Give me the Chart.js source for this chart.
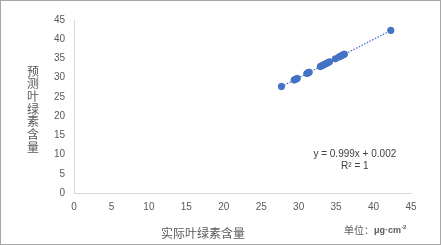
<!DOCTYPE html>
<html>
<head>
<meta charset="utf-8">
<script src="https://cdn.jsdelivr.net/npm/chart.js@4/dist/chart.umd.min.js"></script>
<style>
  html, body { margin: 0; padding: 0; background: #fff; }
  #wrap { width: 441px; height: 245px; position: relative; }
</style>
</head>
<body>
<div id="wrap"><canvas id="c" width="441" height="245"></canvas></div>
<script>
/* measured vs predicted chlorophyll content */
const actualVals    = [27.7, 29.4, 29.6, 29.8, 31.1, 31.3, 31.4, 32.9, 33.1, 33.3, 33.5, 33.7, 33.9, 34.1, 34.9, 35.4, 35.6, 35.8, 36.0, 36.1, 42.3];
const predictedVals = [27.7, 29.4, 29.6, 29.8, 31.1, 31.3, 31.4, 32.9, 33.1, 33.3, 33.5, 33.7, 33.9, 34.1, 34.9, 35.4, 35.6, 35.8, 36.0, 36.1, 42.3];
const trendX = [27.7, 42.3];
const trendY = [27.67, 42.26];
const equationLines = ['y = 0.999x + 0.002', 'R² = 1'];
const yTitle = '预测叶绿素含量';
const xTitle = '实际叶绿素含量';
const unitText = '单位：';
const unitVal  = 'μg·cm';

const BLUE = '#4472C4';
const GREY = '#595959';
const LATIN = "'Liberation Sans', Arial, sans-serif";
const CJK   = "'Noto Sans CJK SC', sans-serif";

Chart.defaults.font.family = LATIN;
Chart.defaults.color = GREY;

/* frame, titles and equation label */
const decor = {
  id: 'decor',
  beforeDraw(chart) {
    const ctx = chart.ctx;
    ctx.save();
    ctx.fillStyle = '#fff';
    ctx.fillRect(0, 0, chart.width, chart.height);
    ctx.restore();
  },
  afterDraw(chart) {
    const ctx = chart.ctx;
    const x = chart.scales.x, y = chart.scales.y;
    ctx.save();
    ctx.strokeStyle = '#a6a6a6';
    ctx.lineWidth = 1;
    ctx.strokeRect(0.5, 0.5, chart.width - 1, chart.height - 1);

    ctx.fillStyle = GREY;
    ctx.textAlign = 'center';
    ctx.textBaseline = 'middle';

    // vertical y title, one glyph per line
    ctx.font = '12px ' + CJK;
    [...yTitle].forEach((ch, i) => ctx.fillText(ch, 33, 71 + i * 12.7));

    ctx.fillText(xTitle, 203, 233);

    // unit label
    ctx.textAlign = 'left';
    ctx.font = '10px ' + CJK;
    ctx.fillText(unitText, 344, 230);
    const w1 = ctx.measureText(unitText).width;
    ctx.font = 'bold 9px ' + LATIN;
    ctx.fillText(unitVal, 344 + w1, 231);
    const w2 = ctx.measureText(unitVal).width;
    ctx.font = 'bold 6px ' + LATIN;
    ctx.fillText('-2', 344 + w1 + w2, 227);

    // equation
    ctx.textAlign = 'center';
    ctx.font = '10px ' + LATIN;
    ctx.fillStyle = '#404040';
    ctx.fillText(equationLines[0], x.getPixelForValue(37.5), y.getPixelForValue(10.1));
    ctx.fillText(equationLines[1], x.getPixelForValue(37.5), y.getPixelForValue(7.0));
    ctx.restore();
  }
};

new Chart(document.getElementById('c'), {
  type: 'scatter',
  data: {
    datasets: [
      {
        label: 'points',
        data: actualVals.map((v, i) => ({ x: v, y: predictedVals[i] })),
        backgroundColor: BLUE,
        borderColor: BLUE,
        pointRadius: 3.2,
        pointHoverRadius: 3.2,
        order: 1,
      },
      {
        label: 'trend',
        type: 'line',
        data: trendX.map((v, i) => ({ x: v, y: trendY[i] })),
        borderColor: BLUE,
        borderWidth: 1.3,
        borderDash: [1.5, 1.5],
        pointRadius: 0,
        fill: false,
        order: 2,
      }
    ]
  },
  options: {
    responsive: false,
    animation: false,
    events: [],
    layout: { padding: { left: 0, right: 30, top: 20, bottom: 0 } },
    plugins: { legend: { display: false }, tooltip: { enabled: false } },
    scales: {
      x: {
        type: 'linear', min: 0, max: 45,
        grid: { display: false, drawTicks: false },
        border: { color: '#d9d9d9' },
        ticks: { stepSize: 5, padding: 8, maxRotation: 0, font: { size: 10 }, color: GREY },
        afterFit: s => { s.height = 52; }
      },
      y: {
        type: 'linear', min: 0, max: 45,
        grid: { display: false, drawTicks: false },
        border: { color: '#d9d9d9' },
        ticks: { stepSize: 5, padding: 9, font: { size: 10 }, color: GREY },
        afterFit: s => { s.width = 74; }
      }
    }
  },
  plugins: [decor]
});
</script>
</body>
</html>
